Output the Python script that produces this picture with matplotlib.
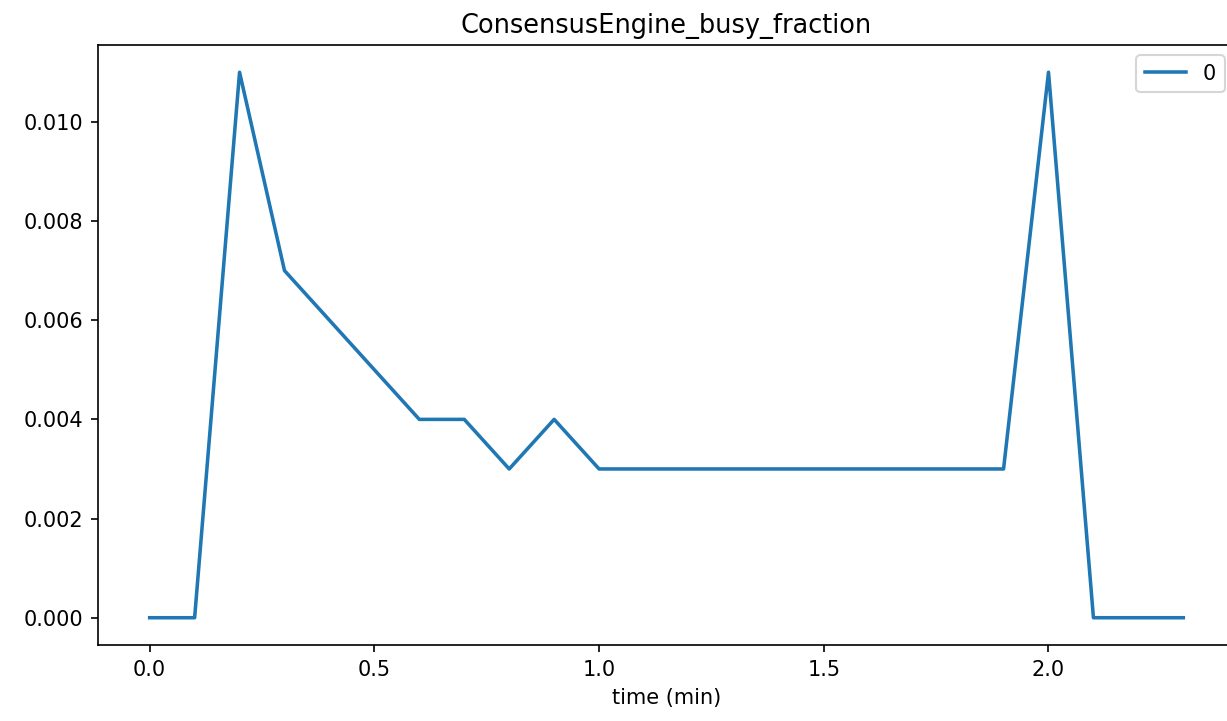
import numpy as np
import matplotlib
matplotlib.use("Agg")
import matplotlib.pyplot as plt

time_min = [0.0, 0.1, 0.2, 0.3, 0.4, 0.5, 0.6, 0.7, 0.8, 0.9, 1.0, 1.1,
            1.2, 1.3, 1.4, 1.5, 1.6, 1.7, 1.8, 1.9, 2.0, 2.1, 2.2, 2.3]
busy = [0.0, 0.0, 0.011, 0.007, 0.006, 0.005, 0.004, 0.004, 0.003, 0.004, 0.003, 0.003,
        0.003, 0.003, 0.003, 0.003, 0.003, 0.003, 0.003, 0.003, 0.011, 0.0, 0.0, 0.0]

fig = plt.figure(figsize=(1227 / 150, 721 / 150), dpi=150)
# axes runs a little past the right edge of the image, like the reference
ax = fig.add_axes([98 / 1227, 1 - 645 / 721, 1137 / 1227, 600 / 721])
ax.plot(time_min, busy, label="0", lw=1.7)
ax.set_title("ConsensusEngine_busy_fraction", fontsize=12.3)
ax.set_xlabel("time (min)")
ax.legend(loc="upper right")
fig.savefig("out.png", dpi=150)
